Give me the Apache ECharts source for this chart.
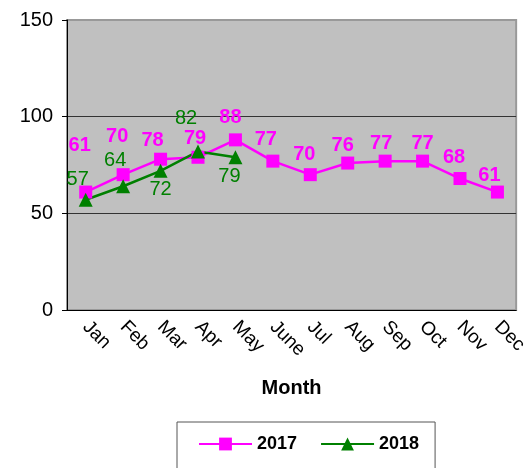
<!DOCTYPE html>
<html>
<head>
<meta charset="utf-8">
<script src="https://cdn.jsdelivr.net/npm/echarts@6/dist/echarts.min.js"></script>
<style>
  html, body { margin: 0; padding: 0; background: #fff; }
  #chart { width: 530px; height: 468px; }
</style>
</head>
<body>
<div id="chart"></div>
<script>
const months = ['Jan', 'Feb', 'Mar', 'Apr', 'May', 'June', 'Jul', 'Aug', 'Sep', 'Oct', 'Nov', 'Dec']
const sales2017 = [61, 70, 78, 79, 88, 77, 70, 76, 77, 77, 68, 61]
const sales2018 = [57, 64, 72, 82, 79]
const yTicks = [0, 50, 100, 150]

// label nudges (px) so the value labels sit where they do in the original
const off2017 = [[-6, -47], [-6, -38], [-8, -19], [-3, -19], [-5, -22], [-7, -22],
                 [-6, -20], [-5, -18], [-4, -18], [0, -18], [-6, -21], [-8, -17]]
const off2018 = [[-8, -20], [-8, -26], [0, 19], [-12, -33], [-6, 19]]

const font = '"Liberation Sans", Arial, sans-serif'

let chart = echarts.init(document.getElementById('chart'))
chart.setOption({
  animation: false,
  textStyle: { fontFamily: font },
  grid: {
    left: 67, right: 10, top: 20, bottom: 158,
    show: true,
    backgroundColor: '#C0C0C0',
    borderColor: '#999999',
    borderWidth: 2
  },
  legend: {
    bottom: -40,
    left: 177,
    padding: [13, 16, 55, 21],
    borderColor: '#555555',
    borderWidth: 1,
    itemWidth: 53,
    itemHeight: 16,
    itemGap: 23,
    textStyle: { fontSize: 18, fontWeight: 'bold', color: '#000', fontFamily: font },
    data: ['2017', '2018']
  },
  xAxis: {
    type: 'category',
    data: months,
    name: 'Month',
    nameLocation: 'middle',
    nameGap: 68,
    nameTextStyle: { fontSize: 20, fontWeight: 'bold', color: '#000', fontFamily: font },
    axisLine: { lineStyle: { color: '#000', width: 1 } },
    axisTick: { length: 6, lineStyle: { color: '#000' } },
    axisLabel: { rotate: -45, fontSize: 19, color: '#000', margin: 14, fontFamily: font }
  },
  yAxis: {
    type: 'value',
    min: yTicks[0],
    max: yTicks[yTicks.length - 1],
    interval: 50,
    axisLine: { show: true, lineStyle: { color: '#000', width: 1 } },
    axisTick: { show: true, length: 5, lineStyle: { color: '#000' } },
    axisLabel: { fontSize: 20, color: '#000', margin: 14, fontFamily: font },
    splitLine: { lineStyle: { color: ['#333', '#333', '#333', '#999'], width: 1 } }
  },
  series: [
    {
      name: '2017',
      type: 'line',
      symbol: 'rect',
      symbolSize: 13,
      color: '#FF00FF',
      lineStyle: { width: 2.5, color: '#FF00FF' },
      label: {
        show: true,
        position: 'inside',
        color: '#FF00FF',
        fontSize: 20,
        fontWeight: 'bold',
        fontFamily: font
      },
      data: sales2017.map((v, i) => ({ value: v, label: { offset: off2017[i] } }))
    },
    {
      name: '2018',
      type: 'line',
      symbol: 'triangle',
      symbolSize: 14,
      color: '#008000',
      lineStyle: { width: 2.5, color: '#008000' },
      label: {
        show: true,
        position: 'inside',
        color: '#008000',
        fontSize: 20,
        fontFamily: font
      },
      data: sales2018.map((v, i) => ({ value: v, label: { offset: off2018[i] } }))
    }
  ]
})
</script>
</body>
</html>
